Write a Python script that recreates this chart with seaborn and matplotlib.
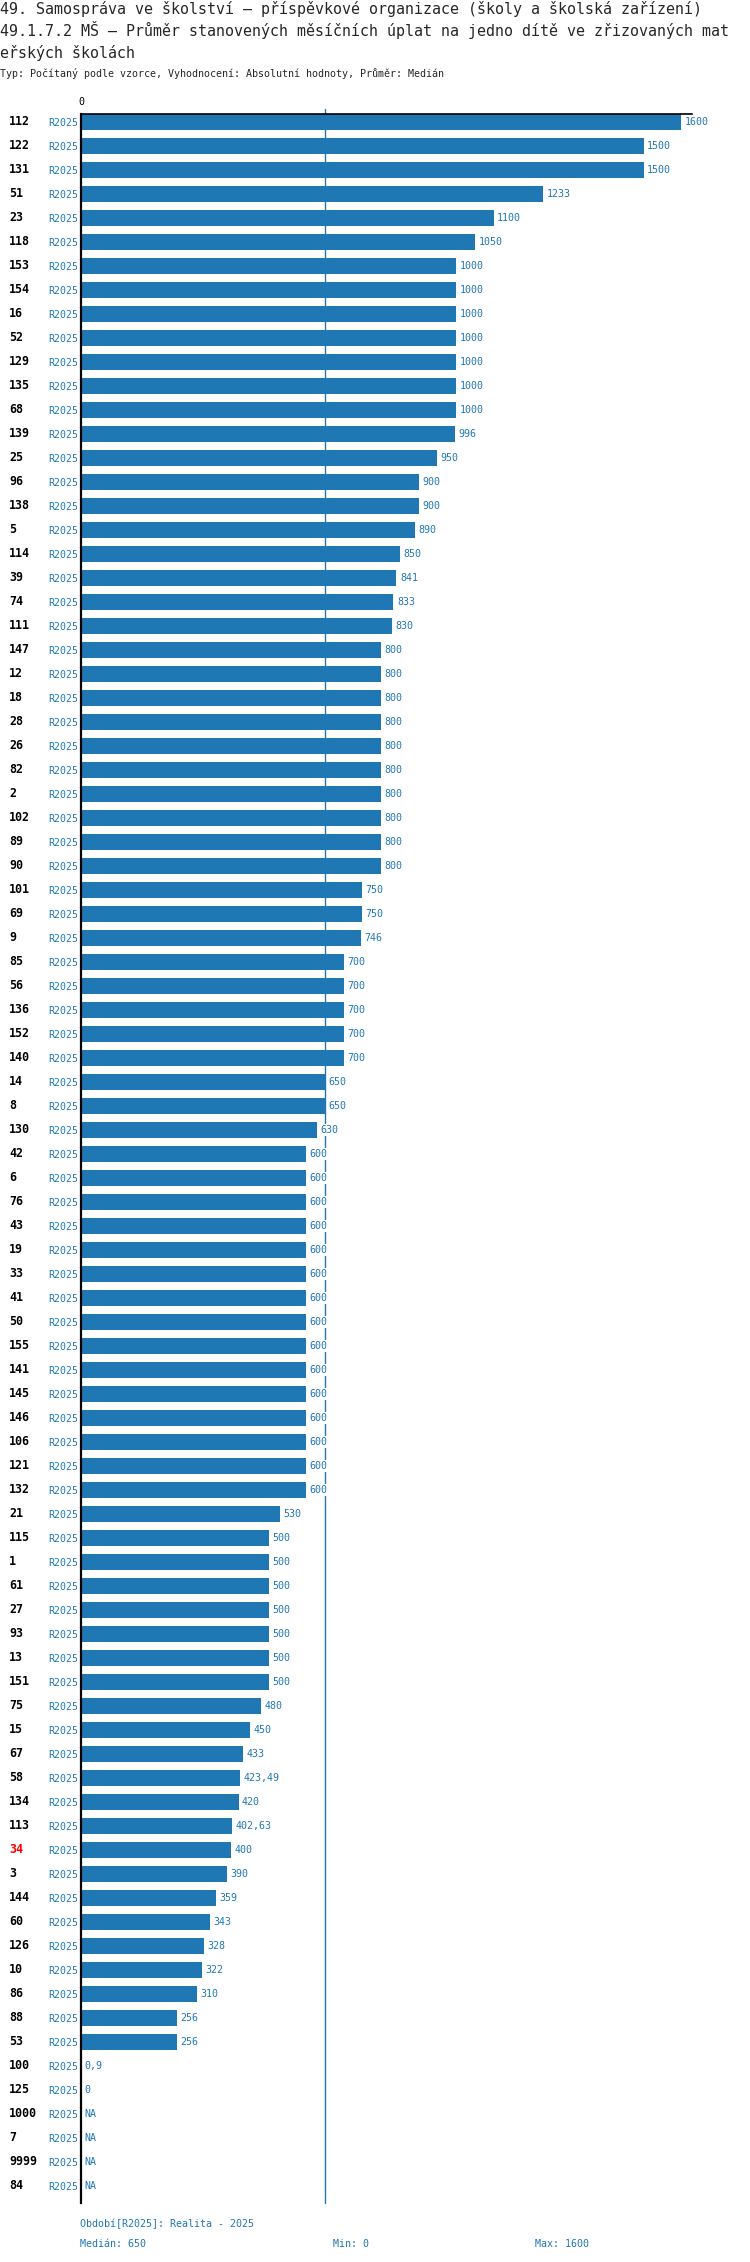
import numpy as np
import pandas as pd
import matplotlib
matplotlib.use("Agg")
import matplotlib.pyplot as plt
import matplotlib.transforms as mtransforms
import seaborn as sns

# texty
title_lines = [
    "49. Samospráva ve školství – příspěvkové organizace (školy a školská zařízení)",
    "49.1.7.2 MŠ – Průměr stanovených měsíčních úplat na jedno dítě ve zřizovaných mat",
    "eřských školách",
]
subtitle = "Typ: Počítaný podle vzorce, Vyhodnocení: Absolutní hodnoty, Průměr: Medián"
period = "R2025"
period_note = "Období[R2025]: Realita - 2025"
highlight_id = "34"

# data
ids = [
    112, 122, 131, 51, 23, 118, 153, 154, 16, 52, 129, 135, 68, 139, 25, 96,
    138, 5, 114, 39, 74, 111, 147, 12, 18, 28, 26, 82, 2, 102, 89, 90, 101,
    69, 9, 85, 56, 136, 152, 140, 14, 8, 130, 42, 6, 76, 43, 19, 33, 41, 50,
    155, 141, 145, 146, 106, 121, 132, 21, 115, 1, 61, 27, 93, 13, 151, 75,
    15, 67, 58, 134, 113, 34, 3, 144, 60, 126, 10, 86, 88, 53, 100, 125,
    1000, 7, 9999, 84,
]
values = [
    1600, 1500, 1500, 1233, 1100, 1050, 1000, 1000, 1000, 1000, 1000, 1000,
    1000, 996, 950, 900, 900, 890, 850, 841, 833, 830, 800, 800, 800, 800,
    800, 800, 800, 800, 800, 800, 750, 750, 746, 700, 700, 700, 700, 700,
    650, 650, 630, 600, 600, 600, 600, 600, 600, 600, 600, 600, 600, 600,
    600, 600, 600, 600, 530, 500, 500, 500, 500, 500, 500, 500, 480, 450,
    433, 423.49, 420, 402.63, 400, 390, 359, 343, 328, 322, 310, 256, 256,
    0.9, 0, np.nan, np.nan, np.nan, np.nan,
]
median_value = 650
min_value = 0
max_value = 1600

W, H = 750, 2262
blue = "#1f77b4"

sns.set_style("white")
plt.rcParams["font.family"] = ["DejaVu Sans Mono", "DejaVu Sans"]


def fmt(v):
    if np.isnan(v):
        return "NA"
    if v == int(v):
        return str(int(v))
    return f"{v:g}".replace(".", ",")


df = pd.DataFrame({"id": [str(i) for i in ids], "value": values})
n = len(df)

fig = plt.figure(figsize=(W / 100, H / 100), dpi=100)
ax = fig.add_axes([81 / W, 1 - 2203 / H, 611 / W, (2203 - 114) / H])

sns.barplot(data=df, x="value", y="id", order=list(df["id"]), orient="h",
            color=blue, saturation=1, width=0.667, linewidth=0,
            errorbar=None, ax=ax)

ax.set_xlim(0, 1629)
ax.set_ylim(86.71, -0.333)
ax.set_xlabel("")
ax.set_ylabel("")

# median line behind the bars
ax.axvline(median_value, color=blue, lw=1, zorder=0.5,
           ymax=1 + 5 / 2089, clip_on=False)

# period labels on the y axis
ax.set_yticks(range(n))
ax.set_yticklabels([period] * n, color=blue, fontsize=7.1)
ax.tick_params(axis="y", length=0, pad=2.2)

# single 0 tick at the top
ax.xaxis.set_ticks_position("top")
ax.set_xticks([0])
ax.set_xticklabels(["0"])
ax.tick_params(axis="x", length=4.3, width=1, pad=1, labelsize=7.2,
               colors="black")

sns.despine(ax=ax, top=False, right=True, bottom=True, left=False)
ax.spines["left"].set_linewidth(1.6)
ax.spines["left"].set_color("black")
ax.spines["top"].set_linewidth(1.2)
ax.spines["top"].set_color("black")

# id labels and value labels
id_tr = mtransforms.blended_transform_factory(fig.transFigure, ax.transData)
val_tr = mtransforms.offset_copy(ax.transData, fig=fig, x=3.5, y=0, units="dots")
for i, row in df.iterrows():
    ax.text(9 / W, i, row["id"], transform=id_tr, ha="left", va="center",
            fontsize=8.4, fontweight="bold",
            color="red" if row["id"] == highlight_id else "black")
    v = row["value"]
    ax.text(0 if np.isnan(v) else v, i, fmt(v), transform=val_tr,
            ha="left", va="center", fontsize=7.2, color=blue, zorder=3,
            bbox=dict(facecolor="white", edgecolor="none", pad=0.5))

# header
for txt, y in zip(title_lines, [14, 36, 58]):
    fig.text(0, 1 - y / H, txt, fontsize=10.8, ha="left", va="baseline")
fig.text(0, 1 - 77 / H, subtitle, fontsize=7.2, ha="left", va="baseline")

# footer
fig.text(80 / W, 1 - 2224 / H, period_note, fontsize=7.2, color=blue,
         ha="left", va="center")
fig.text(80 / W, 1 - 2244 / H, f"Medián: {median_value}", fontsize=7.2,
         color=blue, ha="left", va="center")
fig.text(333 / W, 1 - 2244 / H, f"Min: {min_value}", fontsize=7.2,
         color=blue, ha="left", va="center")
fig.text(535 / W, 1 - 2244 / H, f"Max: {max_value}", fontsize=7.2,
         color=blue, ha="left", va="center")

fig.savefig("out.png", dpi=100)
